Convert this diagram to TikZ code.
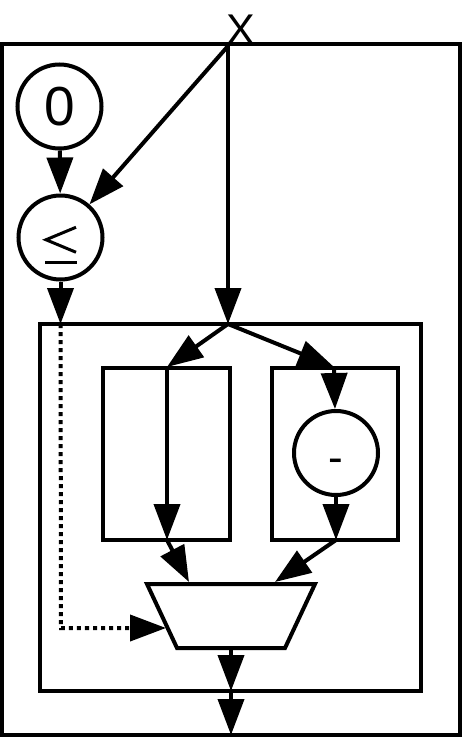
\documentclass[tikz,border=0pt]{standalone}
\usepackage{fontspec}
\setmainfont{Liberation Sans}
\usetikzlibrary{arrows.meta}
\begin{document}
\begin{tikzpicture}[x=1pt,y=-1pt,
  conn/.style={-{Triangle[length=36pt,width=26pt]}, line width=4pt},
  dotconn/.style={-{Triangle[length=36pt,width=26pt]}, line width=4pt, dash pattern=on 4pt off 4pt},
  opcirc/.style={circle, draw, line width=4pt, minimum size=84pt, inner sep=0pt},
  boxframe/.style={draw, line width=4pt}]
\useasboundingbox (0,0) rectangle (463,739);
% outer box
\draw[line width=4pt] (2,44) rectangle (459.5,735);
% input X
\node[font=\fontsize{43}{43}\selectfont, inner sep=0pt, anchor=south] (xl) at (241,45) {X};
\coordinate (xs) at (228,46);
% circles
\node[opcirc, font=\fontsize{55}{55}\selectfont] (zero) at (59.5,106.5) {0};
\node[opcirc] (leq) at (60.5,237.5) {};
\node[inner sep=0pt] (leqsym) at (61,245) {\tikz[x=1pt,y=-1pt]{\draw[line width=3pt, line join=miter] (15,-12.5) -- (-15,0) -- (15,12.5); \draw[line width=3pt] (-16,23) -- (16,23);}};
% inner box
\draw[boxframe] (40,324) rectangle (421,691);
\coordinate (fork) at (228,324);
\coordinate (ltop) at (60.5,324);
% left and right boxes
\draw[boxframe] (103,368) rectangle (230,540);
\draw[boxframe] (272,368) rectangle (398,540);
\coordinate (lin) at (167,367);
\coordinate (lout) at (167,540);
\coordinate (rin) at (334,367);
\coordinate (rout) at (336,540);
\node[opcirc] (minus) at (336,453) {};
\node[font=\fontsize{44}{44}\selectfont, inner sep=0pt, anchor=base] (minuslabel) at (336,472) {-};
% multiplexer
\draw[boxframe, line join=miter] (147,584) -- (315,584) -- (285,648) -- (177,648) -- cycle;
\coordinate (mtl) at (189,582);
\coordinate (mtr) at (275,582);
\coordinate (msel) at (166,628);
\coordinate (mbot) at (231,648);
\coordinate (ibot) at (231,691);
\coordinate (obot) at (231,735);
\coordinate (dcorner) at (61,628);
% connectors
\draw[conn] (xs) -- (leq);
\draw[conn] (xs) -- (fork);
\draw[conn] (zero) -- (leq);
\draw[conn] (leq) -- (ltop);
\draw[dotconn] (ltop) -- (dcorner) -- (msel);
\draw[conn] (fork) -- (lin);
\draw[conn] (fork) -- (rin);
\draw[conn] (lin) -- (lout);
\draw[conn] (rin) -- (minus);
\draw[conn] (minus) -- (rout);
\draw[conn] (lout) -- (mtl);
\draw[conn] (rout) -- (mtr);
\draw[conn] (mbot) -- (ibot);
\draw[conn] (ibot) -- (obot);
\end{tikzpicture}
\end{document}
